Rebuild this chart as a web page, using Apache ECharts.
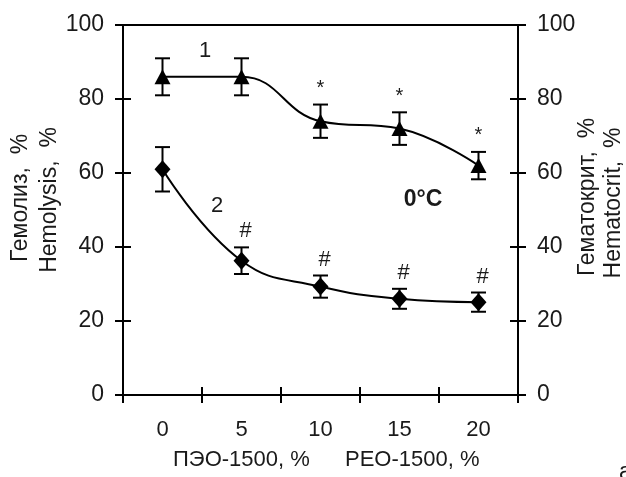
<!DOCTYPE html>
<html>
<head>
<meta charset="utf-8">
<script src="https://cdn.jsdelivr.net/npm/echarts@6/dist/echarts.min.js"></script>
<style>
html,body{margin:0;padding:0;background:#fff;}
#c{width:626px;height:477px;}
</style>
</head>
<body>
<div id="c"></div>
<script>
// ---- data ----
const categories = ['0', '5', '10', '15', '20'];
const hematocritMean = [86, 86, 74, 72, 62];
const hematocritErr = [5, 5, 4.5, 4.4, 3.7];
const hematocritMarks = ['', '', '*', '*', '*'];
const hemolysisMean = [61, 36.3, 29.3, 26, 25.1];
const hemolysisErr = [6, 3.6, 3, 2.7, 2.6];
const hemolysisMarks = ['', '#', '#', '#', '#'];
const yTicks = { min: 0, max: 100, interval: 20 };

const FONT = '"Liberation Sans", Arial, sans-serif';
const INK = '#1a1a1a';

function errData(mean, err, marks) {
  return mean.map((m, i) => [i, m - err[i], m + err[i], marks[i]]);
}

function errRender(markSize, markDx) {
  return function (params, api) {
    const x = api.value(0);
    const lo = api.coord([x, api.value(1)]);
    const hi = api.coord([x, api.value(2)]);
    const w = 7.5;
    const st = { stroke: '#000', lineWidth: 2 };
    const mark = api.value(3);
    const children = [
      { type: 'line', shape: { x1: hi[0], y1: hi[1], x2: lo[0], y2: lo[1] }, style: st },
      { type: 'line', shape: { x1: hi[0] - w, y1: hi[1], x2: hi[0] + w, y2: hi[1] }, style: st },
      { type: 'line', shape: { x1: lo[0] - w, y1: lo[1], x2: lo[0] + w, y2: lo[1] }, style: st }
    ];
    if (mark) {
      children.push({
        type: 'text',
        style: {
          text: mark, x: hi[0] + markDx, y: hi[1] - 16,
          align: 'center', verticalAlign: 'middle',
          font: markSize + 'px ' + FONT, fill: INK
        }
      });
    }
    return { type: 'group', children };
  };
}

const yOuter = (pos) => ({
  type: 'value', position: pos, min: yTicks.min, max: yTicks.max, interval: yTicks.interval,
  axisLine: { show: true, lineStyle: { color: '#000', width: 2 } },
  axisTick: { show: true, inside: false, length: 8, lineStyle: { color: '#000', width: 2 } },
  axisLabel: { show: true, margin: 19, color: INK, fontSize: 23, fontFamily: FONT },
  splitLine: { show: false }
});
const yInner = (pos) => ({
  type: 'value', position: pos, min: yTicks.min, max: yTicks.max, interval: yTicks.interval,
  axisLine: { show: false },
  axisTick: { show: true, inside: true, length: 8, lineStyle: { color: '#000', width: 2 } },
  axisLabel: { show: false },
  splitLine: { show: false }
});

const chart = echarts.init(document.getElementById('c'), null, { renderer: 'canvas' });
chart.setOption({
  animation: false,
  backgroundColor: '#fff',
  grid: { left: 123, right: 108, top: 25, bottom: 82, show: true, borderColor: '#000', borderWidth: 2, backgroundColor: 'transparent' },
  xAxis: [
    {
      type: 'category', data: categories, position: 'bottom',
      axisLine: { show: true, lineStyle: { color: '#000', width: 2 } },
      axisTick: { show: true, inside: false, length: 8, lineStyle: { color: '#000', width: 2 } },
      axisLabel: { margin: 24, color: INK, fontSize: 22, fontFamily: FONT },
      splitLine: { show: false }
    },
    {
      type: 'category', data: categories, position: 'bottom', gridIndex: 0,
      axisLine: { show: false },
      axisTick: { show: true, inside: true, length: 8, lineStyle: { color: '#000', width: 2 } },
      axisLabel: { show: false },
      splitLine: { show: false }
    }
  ],
  yAxis: [yOuter('left'), yInner('left'), yOuter('right'), yInner('right')],
  series: [
    {
      type: 'custom', name: 'err1', xAxisIndex: 0, yAxisIndex: 0,
      renderItem: errRender(20, 0), data: errData(hematocritMean, hematocritErr, hematocritMarks), z: 2
    },
    {
      type: 'custom', name: 'err2', xAxisIndex: 0, yAxisIndex: 0,
      renderItem: errRender(22, 4), data: errData(hemolysisMean, hemolysisErr, hemolysisMarks), z: 2
    },
    {
      type: 'line', name: 'Hematocrit', xAxisIndex: 0, yAxisIndex: 0,
      data: hematocritMean, smooth: 0.45,
      symbol: 'triangle', symbolSize: [16, 15],
      lineStyle: { color: '#000', width: 2 }, itemStyle: { color: '#000' }, z: 3
    },
    {
      type: 'line', name: 'Hemolysis', xAxisIndex: 0, yAxisIndex: 0,
      data: hemolysisMean, smooth: 0.45,
      symbol: 'diamond', symbolSize: [16, 18],
      lineStyle: { color: '#000', width: 2 }, itemStyle: { color: '#000' }, z: 3
    }
  ],
  graphic: [
    { type: 'text', x: 21, y: 198, rotation: Math.PI / 2, style: { text: 'Гемолиз,  %', align: 'center', verticalAlign: 'middle', font: '23px ' + FONT, fill: INK } },
    { type: 'text', x: 50, y: 200, rotation: Math.PI / 2, style: { text: 'Hemolysis,  %', align: 'center', verticalAlign: 'middle', font: '23px ' + FONT, fill: INK } },
    { type: 'text', x: 588, y: 197, rotation: Math.PI / 2, style: { text: 'Гематокрит,  %', align: 'center', verticalAlign: 'middle', font: '23px ' + FONT, fill: INK } },
    { type: 'text', x: 614, y: 203, rotation: Math.PI / 2, style: { text: 'Hematocrit,  %', align: 'center', verticalAlign: 'middle', font: '23px ' + FONT, fill: INK } },
    { type: 'text', x: 173, y: 460, style: { text: 'ПЭО-1500, %', align: 'left', verticalAlign: 'middle', font: '22px ' + FONT, fill: INK } },
    { type: 'text', x: 345, y: 460, style: { text: 'PEO-1500, %', align: 'left', verticalAlign: 'middle', font: '22px ' + FONT, fill: INK } },
    { type: 'text', x: 619, y: 473, style: { text: 'a', align: 'left', verticalAlign: 'middle', font: '23px ' + FONT, fill: INK } },
    { type: 'text', x: 423, y: 200, style: { text: '0°C', align: 'center', verticalAlign: 'middle', font: 'bold 23px ' + FONT, fill: INK } },
    { type: 'text', x: 205, y: 51, style: { text: '1', align: 'center', verticalAlign: 'middle', font: '22px ' + FONT, fill: INK } },
    { type: 'text', x: 217, y: 206, style: { text: '2', align: 'center', verticalAlign: 'middle', font: '22px ' + FONT, fill: INK } }
  ]
});
</script>
</body>
</html>
